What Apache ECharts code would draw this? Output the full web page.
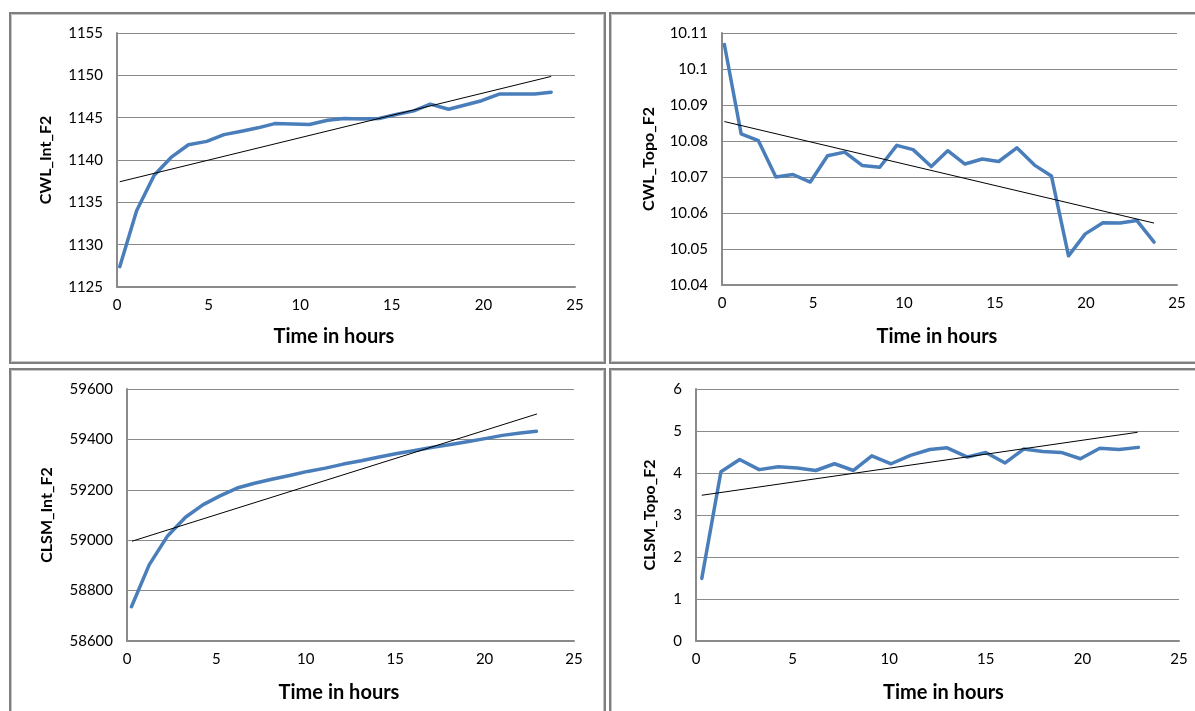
<!DOCTYPE html>
<html>
<head>
<meta charset="utf-8">
<title>CWL / CLSM F2 over time</title>
<script src="https://cdn.jsdelivr.net/npm/echarts@6/dist/echarts.min.js"></script>
<style>
  html, body { margin: 0; padding: 0; background: #ffffff; }
  #chart { width: 1195px; height: 711px; }
</style>
</head>
<body>
<div id="chart"></div>
<script>
// Hourly readings for each measure (hours since start, value)
const hoursCwlInt = [0.15, 1.07, 2.03, 2.95, 3.9, 4.9, 5.84, 6.8, 7.7, 8.6, 9.6, 10.5, 11.5, 12.4, 13.4, 14.3, 15.3, 16.2, 17.1, 18.1, 19.0, 19.9, 20.9, 21.9, 22.8, 23.7];
const cwlInt = [1127.4, 1134.0, 1138.2, 1140.3, 1141.8, 1142.2, 1143.0, 1143.4, 1143.8, 1144.3, 1144.25, 1144.2, 1144.7, 1144.9, 1144.85, 1144.9, 1145.4, 1145.8, 1146.6, 1146.0, 1146.5, 1147.0, 1147.8, 1147.8, 1147.8, 1148.0];

const hoursCwlTopo = [0.13, 1.05, 2.0, 2.96, 3.9, 4.85, 5.8, 6.74, 7.7, 8.67, 9.6, 10.5, 11.5, 12.4, 13.35, 14.3, 15.2, 16.2, 17.17, 18.1, 19.04, 19.96, 20.93, 21.87, 22.8, 23.74];
const cwlTopo = [10.1068, 10.0820, 10.0801, 10.0700, 10.0707, 10.0686, 10.0759, 10.0769, 10.0732, 10.0727, 10.0788, 10.0776, 10.0729, 10.0773, 10.0736, 10.0750, 10.0743, 10.0781, 10.0733, 10.0703, 10.0481, 10.0542, 10.0573, 10.0572, 10.0579, 10.0519];

const hoursClsmInt = [0.25, 1.24, 2.27, 3.27, 4.24, 5.2, 6.16, 7.13, 8.1, 9.16, 10.1, 11.1, 12.1, 13.1, 14.1, 15.1, 16.1, 17.1, 18.1, 19.1, 20.1, 21.0, 22.0, 22.9];
const clsmInt = [58736, 58902, 59017, 59091, 59140, 59176, 59207, 59226, 59242, 59258, 59273, 59286, 59302, 59315, 59330, 59344, 59356, 59369, 59380, 59392, 59404, 59416, 59425, 59432];

const hoursClsmTopo = [0.3, 1.29, 2.26, 3.27, 4.26, 5.25, 6.2, 7.17, 8.15, 9.1, 10.1, 11.1, 12.1, 13.0, 14.05, 15.0, 16.0, 16.96, 17.95, 18.9, 19.9, 20.9, 21.9, 22.9];
const clsmTopo = [1.49, 4.03, 4.32, 4.08, 4.15, 4.12, 4.06, 4.22, 4.06, 4.41, 4.22, 4.42, 4.56, 4.60, 4.38, 4.49, 4.24, 4.57, 4.51, 4.49, 4.34, 4.59, 4.56, 4.61];

// Linear trend lines: [start hour, end hour] and the trend value at each
const trendHoursCwlInt = [0.15, 23.7];
const trendCwlInt = [1137.43, 1149.87];
const trendHoursCwlTopo = [0.13, 23.74];
const trendCwlTopo = [10.0854, 10.0572];
const trendHoursClsmInt = [0.28, 22.93];
const trendClsmInt = [58996, 59501];
const trendHoursClsmTopo = [0.3, 22.86];
const trendClsmTopo = [3.47, 4.97];

// Axis ranges per panel
const hourTicks = { min: 0, max: 25, interval: 5 };
const cwlIntAxis = { min: 1125, max: 1155, interval: 5 };
const cwlTopoAxis = { min: 10.04, max: 10.11, interval: 0.01 };
const clsmIntAxis = { min: 58600, max: 59600, interval: 200 };
const clsmTopoAxis = { min: 0, max: 6, interval: 1 };

const axisTitleX = 'Time in hours';
const panelNames = ['CWL_Int_F2', 'CWL_Topo_F2', 'CLSM_Int_F2', 'CLSM_Topo_F2'];

function pairs(xs, ys) { return xs.map((x, i) => [x, ys[i]]); }

const FONT = 'Lato, "Open Sans", sans-serif';
const GRID_COLOR = '#8a8a8a';

const grids = [
  { left: 117, top: 33, width: 458, height: 254 },
  { left: 722, top: 33, width: 455, height: 252 },
  { left: 127, top: 389, width: 447, height: 252 },
  { left: 696, top: 389, width: 483, height: 252 }
];
const yRanges = [cwlIntAxis, cwlTopoAxis, clsmIntAxis, clsmTopoAxis];
const yNameGaps = [63, 65, 72, 38];
const xNamePad = [[0, 24, 0, 0], [0, 25, 0, 0], [0, 23, 0, 0], [0, 0, 0, 12]];
const xNameGaps = [40, 42, 42, 42];
const hourSets = [hoursCwlInt, hoursCwlTopo, hoursClsmInt, hoursClsmTopo];
const valueSets = [cwlInt, cwlTopo, clsmInt, clsmTopo];
const trendHourSets = [trendHoursCwlInt, trendHoursCwlTopo, trendHoursClsmInt, trendHoursClsmTopo];
const trendSets = [trendCwlInt, trendCwlTopo, trendClsmInt, trendClsmTopo];

const xAxes = grids.map((g, i) => ({
  type: 'value', gridIndex: i,
  min: hourTicks.min, max: hourTicks.max, interval: hourTicks.interval,
  name: axisTitleX, nameLocation: 'middle', nameGap: xNameGaps[i],
  nameTextStyle: { fontFamily: FONT, fontWeight: 'bold', fontSize: 20, color: '#000', padding: xNamePad[i] },
  axisLine: { show: true, onZero: false, lineStyle: { color: GRID_COLOR, width: 2 } },
  axisTick: { show: false },
  axisLabel: { fontFamily: FONT, fontSize: 15, color: '#000', margin: 11 },
  splitLine: { show: false }
}));

const yAxes = grids.map((g, i) => ({
  type: 'value', gridIndex: i,
  min: yRanges[i].min, max: yRanges[i].max, interval: yRanges[i].interval,
  name: panelNames[i], nameLocation: 'middle', nameGap: yNameGaps[i], nameRotate: 90,
  nameTextStyle: { fontFamily: FONT, fontWeight: 'bold', fontSize: 16, color: '#000' },
  axisLine: { show: true, lineStyle: { color: GRID_COLOR, width: 2 } },
  axisTick: { show: false },
  axisLabel: {
    fontFamily: FONT, fontSize: 15, color: '#000', margin: 14,
    formatter: v => String(parseFloat(v.toFixed(4)))
  },
  splitLine: { show: true, lineStyle: { color: GRID_COLOR, width: 1 } }
}));

const series = [];
hourSets.forEach((hs, i) => {
  series.push({
    type: 'line', xAxisIndex: i, yAxisIndex: i,
    data: pairs(hs, valueSets[i]),
    showSymbol: false, symbol: 'none', smooth: false,
    lineStyle: { color: '#4a7ebb', width: 3.5, join: 'round', cap: 'round' },
    z: 3
  });
  series.push({
    type: 'line', xAxisIndex: i, yAxisIndex: i,
    data: pairs(trendHourSets[i], trendSets[i]),
    showSymbol: false, symbol: 'none',
    lineStyle: { color: '#000000', width: 1 },
    z: 4
  });
});

// Panel frames
function frame(x, y, w, h) {
  return [
    { type: 'rect', shape: { x: x + 1.5, y: y + 1.5, width: w - 3, height: h - 3 },
      style: { fill: 'none', stroke: '#c4c4c4', lineWidth: 1 }, silent: true },
    { type: 'rect', shape: { x: x, y: y, width: w, height: h },
      style: { fill: 'none', stroke: '#7f7f7f', lineWidth: 2 }, silent: true }
  ];
}

const option = {
  animation: false,
  backgroundColor: '#ffffff',
  grid: grids.map(g => Object.assign({ containLabel: false }, g)),
  xAxis: xAxes,
  yAxis: yAxes,
  series: series,
  graphic: [].concat(
    frame(10, 13, 595, 350),
    frame(610, 13, 600, 350),
    frame(10, 369, 595, 360),
    frame(610, 369, 600, 360)
  )
};

const chart = echarts.init(document.getElementById('chart'), null, { renderer: 'canvas' });
chart.setOption(option);
</script>
</body>
</html>
